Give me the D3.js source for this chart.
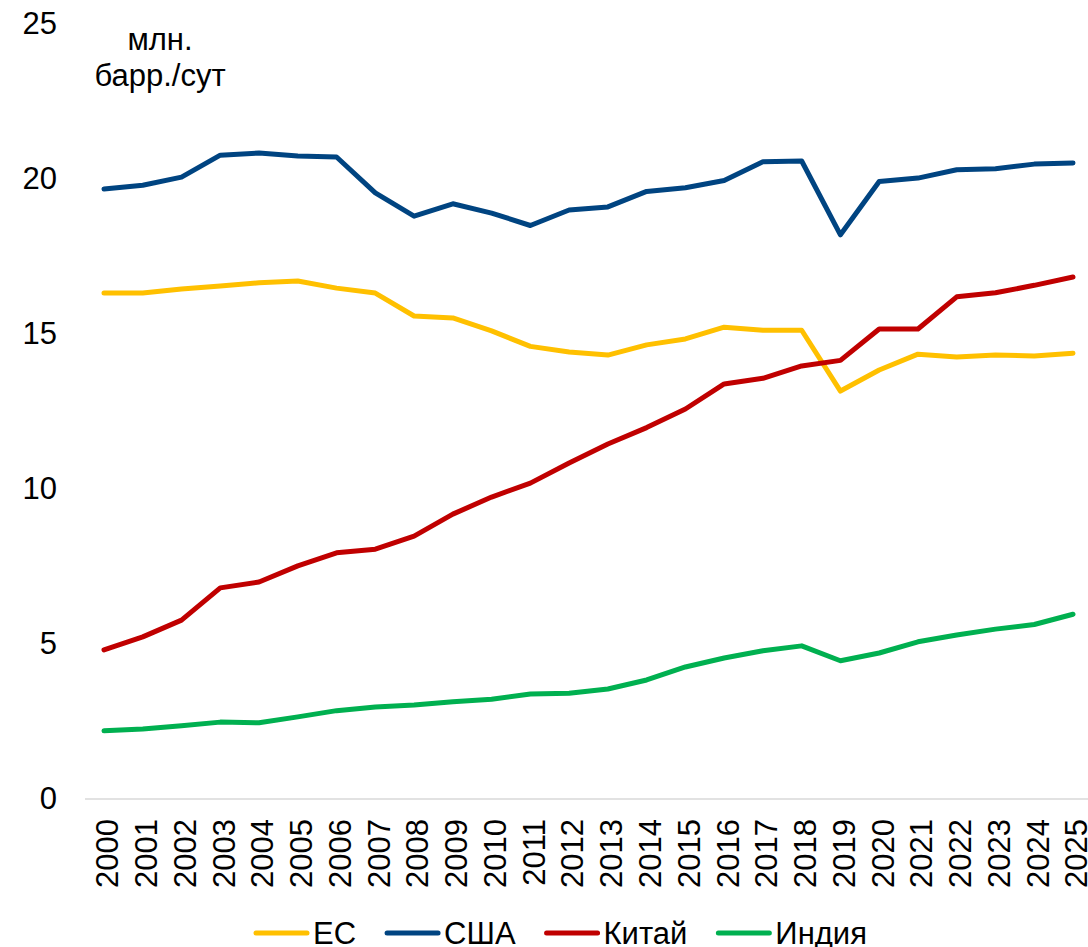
<!DOCTYPE html>
<html>
<head>
<meta charset="utf-8">
<script src="https://cdn.jsdelivr.net/npm/d3@7"></script>
<style>
body { margin: 0; background: #fff; }
text { font-family: "Liberation Sans", Arial, sans-serif; fill: #000; }
</style>
</head>
<body>
<div id="canvas"></div>
<script>
var years = ['2000','2001','2002','2003','2004','2005','2006','2007','2008','2009','2010','2011','2012',
    '2013','2014','2015','2016','2017','2018','2019','2020','2021','2022','2023','2024','2025'];
var eu = [16.32,16.32,16.45,16.55,16.65,16.71,16.48,16.32,15.58,15.52,15.1,14.6,14.42,
    14.32,14.65,14.84,15.22,15.12,15.12,13.16,13.84,14.35,14.26,14.32,14.29,14.38];
var usa = [19.68,19.8,20.06,20.77,20.84,20.74,20.71,19.55,18.8,19.2,18.9,18.5,19.0,
    19.1,19.6,19.72,19.95,20.56,20.58,18.2,19.92,20.03,20.3,20.33,20.48,20.52];
var china = [4.81,5.23,5.77,6.81,7.0,7.52,7.94,8.06,8.48,9.19,9.74,10.19,10.84,
    11.45,11.98,12.58,13.39,13.57,13.97,14.15,15.16,15.16,16.2,16.33,16.57,16.84];
var india = [2.2,2.26,2.36,2.48,2.46,2.65,2.85,2.97,3.03,3.14,3.22,3.39,3.41,
    3.55,3.84,4.26,4.55,4.78,4.94,4.46,4.71,5.07,5.29,5.48,5.63,5.96];
var yTicks = [0, 5, 10, 15, 20, 25];
var seriesNames = ['ЕС', 'США', 'Китай', 'Индия'];
var seriesColors = ['#ffc000', '#004481', '#c00000', '#00b050'];
var seriesValues = [eu, usa, china, india];

var width = 1088;
var height = 947;
var fontSize = 31;

var svg = d3.select('#canvas')
    .append('svg')
    .attr('width', width)
    .attr('height', height);

var x = d3.scalePoint().domain(years).range([104, 1073]);
var y = d3.scaleLinear().domain([0, 25]).range([799, 24]);

// y tick labels (no axis line)
var yAxis = svg.append('g')
    .attr('transform', 'translate(57,0)')
    .call(d3.axisLeft(y).tickValues(yTicks).tickSize(0).tickPadding(0));
yAxis.select('.domain').remove();
yAxis.selectAll('text')
    .style('font-size', fontSize + 'px')
    .style('font-family', '"Liberation Sans", Arial, sans-serif')
    .attr('fill', '#000');

// category axis line
svg.append('line')
    .attr('x1', 85)
    .attr('x2', 1088)
    .attr('y1', y(0))
    .attr('y2', y(0))
    .style('stroke', '#d9d9d9')
    .style('stroke-width', 1.5);

// year labels, rotated
var xAxis = svg.append('g')
    .attr('transform', 'translate(0,' + y(0) + ')')
    .call(d3.axisBottom(x).tickSize(0).tickPadding(0));
xAxis.select('.domain').remove();
xAxis.selectAll('text')
    .style('font-size', fontSize + 'px')
    .style('font-family', '"Liberation Sans", Arial, sans-serif')
    .attr('fill', '#000')
    .attr('text-anchor', 'end')
    .attr('transform', function () { return 'translate(3,20) rotate(-90)'; })
    .attr('x', 0)
    .attr('y', 0)
    .attr('dy', '0.35em');

// unit label
svg.append('text')
    .attr('x', 160)
    .attr('y', 50)
    .attr('text-anchor', 'middle')
    .style('font-size', fontSize + 'px')
    .text('млн.');
svg.append('text')
    .attr('x', 160)
    .attr('y', 86)
    .attr('text-anchor', 'middle')
    .style('font-size', fontSize + 'px')
    .text('барр./сут');

var line = d3.line()
    .x(function (d, i) { return x(years[i]); })
    .y(function (d) { return y(d); });

for (var s = 0; s < seriesValues.length; s++) {
    svg.append('path')
        .datum(seriesValues[s])
        .attr('d', line)
        .style('fill', 'none')
        .style('stroke', seriesColors[s])
        .style('stroke-width', 5)
        .style('stroke-linejoin', 'round')
        .style('stroke-linecap', 'round');
}

// legend
var legendX = 256;
var legendY = 933;
for (var k = 0; k < seriesNames.length; k++) {
    svg.append('line')
        .attr('x1', legendX)
        .attr('x2', legendX + 51)
        .attr('y1', legendY)
        .attr('y2', legendY)
        .style('stroke', seriesColors[k])
        .style('stroke-width', 5)
        .style('stroke-linecap', 'round');
    var label = svg.append('text')
        .attr('x', legendX + 57)
        .attr('y', legendY + 11)
        .style('font-size', fontSize + 'px')
        .text(seriesNames[k]);
    legendX += 57 + label.node().getComputedTextLength() + 31;
}
</script>
</body>
</html>
